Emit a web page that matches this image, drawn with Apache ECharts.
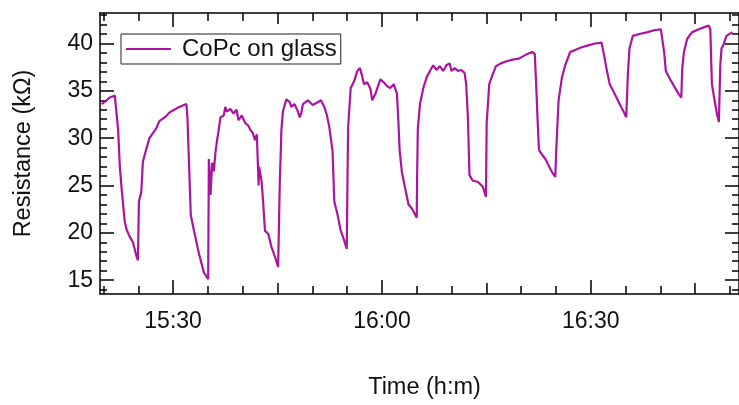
<!DOCTYPE html>
<html>
<head>
<meta charset="utf-8">
<script src="https://cdn.jsdelivr.net/npm/echarts@6/dist/echarts.min.js"></script>
<style>
  html, body { margin: 0; padding: 0; background: #fff; }
  #main { width: 739px; height: 405px; }
</style>
</head>
<body>
<div id="main"></div>
<script>
// time in minutes after midnight (15:30 = 930), resistance in kOhm
var times = [
  919.74, 920.45, 920.92, 921.63, 921.79, 922.10, 922.34, 922.59, 923.05, 923.34, 923.77, 924.23, 924.48, 924.72, 924.95,
  925.09, 925.43, 925.66, 926.13, 926.61, 927.56, 928.03, 928.98, 929.45, 930.41, 930.88, 931.91,
  932.06, 932.30, 932.54, 933.01, 933.72, 934.43, 935.04,
  935.14, 935.38, 935.61, 935.85, 936.09, 936.32, 936.56, 936.80, 937.27, 937.51, 937.73, 938.22, 938.69, 939.11, 939.40, 939.87,
  940.36, 940.83, 941.07, 941.40, 941.78, 942.03, 942.25, 942.29, 942.33, 942.50, 942.72, 942.96, 943.20, 943.67, 944.14, 944.62, 945.09,
  945.33, 945.48, 945.56, 945.80, 946.27, 946.76, 946.98, 947.44, 947.94, 948.18, 948.41, 948.65, 949.36, 950.07, 950.78, 951.25,
  951.73, 952.10, 952.44, 952.91, 953.16, 953.63, 954.09, 954.58, 954.95,
  955.05, 955.15, 955.52, 956.00, 956.47, 956.85, 957.18, 957.42, 957.89, 958.36, 958.60, 959.07, 959.78, 960.27, 960.73, 961.20,
  961.69, 961.91, 962.16, 962.40, 962.54, 962.87, 963.34, 963.82, 964.29, 965.00,
  965.06, 965.16, 965.47, 965.95, 966.42, 966.89, 967.37, 967.84, 968.31, 968.80, 969.27, 969.73, 969.98, 970.45, 970.93, 971.40,
  971.87, 972.11, 972.35, 972.58, 973.06, 973.77, 974.48, 974.95,
  975.05, 975.42, 975.91, 976.38, 977.09, 977.80, 978.75, 979.69, 980.64, 981.59, 981.96, 982.16, 982.35, 982.56, 982.77, 983.48,
  983.95, 984.44, 984.91,
  985.05, 985.38, 985.86, 986.33, 987.04, 987.75, 988.70, 989.64, 990.59, 991.55, 991.77, 992.01, 992.25, 992.73, 993.44, 994.15,
  994.86, 995.10,
  995.33, 995.57, 996.04, 996.99, 998.17, 999.12, 1000.08, 1000.30, 1000.54, 1000.79, 1001.26, 1001.97, 1002.68, 1003.01,
  1003.15, 1003.39, 1003.86, 1004.57, 1005.52, 1006.23, 1006.94, 1007.18, 1007.27, 1007.41, 1007.65, 1008.12, 1008.41,
  1008.61, 1008.79, 1009.03, 1009.50, 1010.36
];
var resistance = [
  33.6, 34.0, 34.3, 34.5, 34.4, 30.9, 27.1, 24.8, 21.2, 20.3, 19.6, 19.0, 18.3, 17.6, 17.1,
  23.3, 24.3, 27.5, 28.8, 30.0, 31.0, 31.8, 32.3, 32.7, 33.1, 33.3, 33.6,
  32.2, 27.1, 21.9, 20.2, 17.8, 15.8, 15.1,
  27.8, 24.0, 27.4, 26.5, 28.5, 29.8, 30.9, 32.2, 32.4, 33.3, 32.8, 33.1, 32.6, 33.0, 31.9, 32.4,
  31.6, 31.3, 30.9, 30.6, 29.8, 30.4, 30.2, 25.0, 27.0, 26.4, 25.4, 23.0, 20.2, 19.9, 18.5, 17.5, 16.4,
  25.4, 28.8, 30.9, 32.9, 34.1, 33.8, 33.3, 33.6, 32.8, 32.2, 32.6, 33.6, 34.0, 33.5, 33.8, 34.0,
  33.3, 32.4, 31.2, 28.6, 23.3, 21.9, 20.2, 19.2, 18.3,
  25.4, 31.2, 35.3, 36.0, 37.1, 37.4, 36.5, 35.7, 35.9, 35.2, 34.0, 34.7, 36.2, 35.9, 35.5, 35.3,
  35.7, 35.9, 34.7, 31.2, 28.8, 26.4, 24.7, 23.0, 22.6, 21.6,
  26.0, 31.0, 33.6, 35.3, 36.4, 37.1, 37.7, 37.2, 37.6, 37.1, 37.7, 37.9, 37.1, 37.4, 37.1, 37.2,
  36.9, 35.7, 32.2, 26.1, 25.5, 25.4, 24.9, 23.8,
  31.6, 35.7, 36.7, 37.6, 37.9, 38.1, 38.3, 38.4, 38.8, 39.1, 38.9, 35.7, 32.2, 28.8, 28.5, 27.8,
  27.1, 26.4, 25.9,
  28.8, 34.0, 36.4, 37.7, 39.1, 39.3, 39.6, 39.8, 40.0, 40.1, 40.0, 38.4, 37.4, 35.7, 34.7, 33.6,
  32.6, 32.2,
  36.7, 39.5, 40.8, 41.0, 41.2, 41.4, 41.5, 41.4, 39.1, 37.1, 36.4, 35.5, 34.6, 34.3,
  37.4, 39.1, 40.5, 41.2, 41.5, 41.7, 41.9, 41.5, 39.1, 35.7, 34.6, 32.6, 31.7,
  37.7, 39.5, 39.8, 40.8, 41.2
];

// tick positions
var timeLabels = [930, 960, 990];
var timeTicksQuarter = [945, 975, 1005];
var timeTicksMinor = [920, 925, 935, 940, 950, 955, 965, 970, 980, 985, 995, 1000, 1010];
var resLabels = [15, 20, 25, 30, 35, 40];
var resTicksMinor = [14, 16, 17, 18, 19, 21, 22, 23, 24, 26, 27, 28, 29, 31, 32, 33, 34, 36, 37, 38, 39, 41, 42, 43];

var font = 'Liberation Sans, Arial, sans-serif';
var lineColor = '#AA14A0';

function fmtTime(v) {
    var h = Math.floor(v / 60);
    var m = Math.round(v - h * 60);
    return h + ':' + (m < 10 ? '0' + m : m);
}

function xAx(pos, ticks, len, opts) {
    var a = {
        type: 'value',
        position: pos,
        min: 919.5,
        max: 1011.3,
        axisLine: { show: false },
        axisTick: { show: true, inside: true, length: len, customValues: ticks,
            lineStyle: { color: '#000', width: 1.5 } },
        axisLabel: { show: false },
        splitLine: { show: false }
    };
    return Object.assign(a, opts || {});
}

function yAx(pos, ticks, len, opts) {
    var a = {
        type: 'value',
        position: pos,
        min: 13.54,
        max: 43.22,
        axisLine: { show: false },
        axisTick: { show: true, inside: true, length: len, customValues: ticks,
            lineStyle: { color: '#000', width: 1.5 } },
        axisLabel: { show: false },
        splitLine: { show: false }
    };
    return Object.assign(a, opts || {});
}

var chart = echarts.init(document.getElementById('main'));
var option = {
    animation: false,
    backgroundColor: '#fff',
    grid: { left: 100, top: 13, width: 646, height: 288.5, containLabel: false },
    legend: {
        left: 121,
        top: 34,
        padding: [3, 4, 3, 5],
        borderColor: '#222',
        borderWidth: 1,
        backgroundColor: '#fff',
        icon: 'rect',
        itemWidth: 45,
        itemHeight: 2,
        textStyle: { fontFamily: font, fontSize: 24, color: '#111', padding: [0, 0, 0, 6], lineHeight: 24 },
        data: ['CoPc on glass']
    },
    xAxis: [
        xAx('bottom', timeTicksMinor, 8, {
            axisLine: { show: true, lineStyle: { color: '#000', width: 1.5 } },
            name: 'Time (h:m)',
            nameLocation: 'middle',
            nameGap: 82,
            nameTextStyle: { fontFamily: font, fontSize: 23.5, color: '#111', padding: [0, 0, 0, 10] }
        }),
        xAx('bottom', timeTicksQuarter, 11),
        xAx('bottom', timeLabels, 14, {
            axisLabel: { show: true, customValues: timeLabels, formatter: fmtTime, margin: 16,
                fontFamily: font, fontSize: 23, color: '#111' }
        }),
        xAx('top', timeTicksMinor, 8, {
            axisLine: { show: true, lineStyle: { color: '#000', width: 1.5 } }
        }),
        xAx('top', timeTicksQuarter, 11),
        xAx('top', timeLabels, 14)
    ],
    yAxis: [
        yAx('left', resLabels, 14, {
            axisLine: { show: true, lineStyle: { color: '#000', width: 1.5 } },
            axisLabel: { show: true, customValues: resLabels, margin: 7,
                fontFamily: font, fontSize: 23, color: '#111' },
            name: 'Resistance (k\u03A9)',
            nameLocation: 'middle',
            nameGap: 64,
            nameTextStyle: { fontFamily: font, fontSize: 23.5, color: '#111' }
        }),
        yAx('left', resTicksMinor, 7),
        yAx('right', resLabels, 14, {
            axisLine: { show: true, lineStyle: { color: '#000', width: 1.5 } }
        }),
        yAx('right', resTicksMinor, 7)
    ],
    series: [
        {
            name: 'CoPc on glass',
            type: 'line',
            xAxisIndex: 0,
            yAxisIndex: 0,
            symbol: 'none',
            showSymbol: false,
            lineStyle: { color: lineColor, width: 2.2 },
            itemStyle: { color: lineColor },
            data: times.map(function (t, i) { return [t, resistance[i]]; })
        }
    ]
};
chart.setOption(option);
</script>
</body>
</html>
